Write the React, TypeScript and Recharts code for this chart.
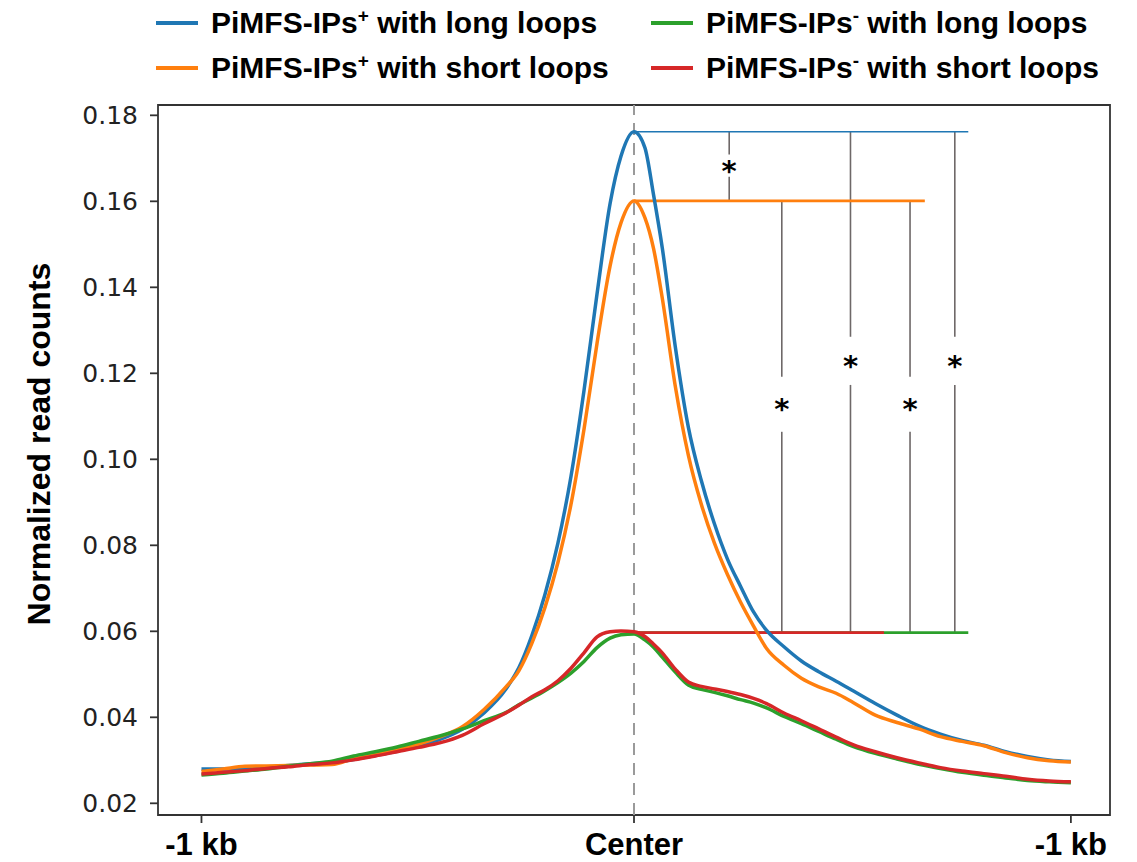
import {
  LineChart,
  Line,
  XAxis,
  YAxis,
  Legend,
  ReferenceLine,
  ReferenceArea,
  ReferenceDot,
} from "recharts";

// bin position: 0 = -1 kb, 99.5 = center, 200 = +1 kb
const positions = [
  0, 5, 10, 15, 20, 25, 30, 35, 40, 45, 50, 55, 60, 65, 70, 73, 76, 79, 82, 85, 88, 91, 94, 96.5, 99.5,
  102, 104, 106, 109, 112, 115, 118, 121, 124, 127, 130, 134, 138, 142, 146, 150, 155, 160, 165, 170,
  175, 180, 185, 190, 195, 200,
];

const plusLong = [
  0.028, 0.028, 0.0281, 0.0284, 0.0288, 0.0292, 0.0295, 0.0302, 0.0311, 0.0321, 0.0334, 0.0349, 0.0372,
  0.041, 0.0465, 0.0515, 0.059, 0.0685, 0.0805, 0.096, 0.116, 0.1385, 0.1595, 0.1705, 0.1762,
  0.1725, 0.1615, 0.1492, 0.1262, 0.1075, 0.095, 0.085, 0.0768, 0.0705, 0.0645, 0.0602, 0.0564, 0.0531,
  0.0506, 0.0484, 0.0461, 0.0432, 0.0405, 0.038, 0.0361, 0.0346, 0.0335, 0.032, 0.0309, 0.0301, 0.0297,
];

const plusShort = [
  0.0274, 0.028, 0.0286, 0.0287, 0.0288, 0.0289, 0.029, 0.0304, 0.0315, 0.0326, 0.0338, 0.0355, 0.0378,
  0.0418, 0.047, 0.0508, 0.0572, 0.0655, 0.076, 0.0895, 0.107, 0.127, 0.145, 0.155, 0.1601,
  0.1562, 0.149, 0.1375, 0.117, 0.101, 0.0895, 0.0805, 0.0732, 0.0668, 0.0612, 0.056, 0.0521, 0.0491,
  0.0471, 0.0456, 0.0434, 0.0405, 0.0388, 0.0373, 0.0355, 0.0344, 0.0334, 0.0318, 0.0306, 0.0299, 0.0296,
];

const minusLong = [
  0.0266, 0.027, 0.0275, 0.028, 0.0286, 0.0292, 0.0298, 0.031, 0.032, 0.0331, 0.0344, 0.0357, 0.0373,
  0.0392, 0.0411, 0.0429, 0.0445, 0.0462, 0.0481, 0.0503, 0.053, 0.0562, 0.0584, 0.0592, 0.0594,
  0.058, 0.0563, 0.054, 0.0505, 0.0475, 0.0465, 0.0458, 0.045, 0.0441, 0.0433, 0.0422, 0.0402, 0.0385,
  0.0367, 0.0349, 0.0332, 0.0316, 0.0303, 0.0291, 0.0281, 0.0272, 0.0265, 0.0259, 0.0253, 0.025, 0.0248,
];

const minusShort = [
  0.0268, 0.0272, 0.0276, 0.0281, 0.0285, 0.029, 0.0294, 0.0301, 0.031, 0.032, 0.033, 0.0341, 0.0358,
  0.0385, 0.041, 0.0428, 0.0448, 0.0464, 0.0485, 0.0514, 0.055, 0.0587, 0.0599, 0.0601, 0.0599,
  0.0588, 0.057, 0.055, 0.0512, 0.0482, 0.0472, 0.0466, 0.046, 0.0453, 0.0444, 0.0432, 0.041, 0.0392,
  0.0373, 0.0354, 0.0336, 0.032, 0.0306, 0.0294, 0.0283, 0.0275, 0.0269, 0.0263, 0.0256, 0.0252, 0.025,
];

const seriesKeys = ["plusLong", "plusShort", "minusLong", "minusShort"];
const seriesNames = [
  "PiMFS-IPs+ with long loops",
  "PiMFS-IPs+ with short loops",
  "PiMFS-IPs- with long loops",
  "PiMFS-IPs- with short loops",
];
const seriesColors = ["#1f77b4", "#ff7f0e", "#2ca02c", "#d62728"];

const xTicks = [0, 99.5, 200];
const xTickLabels = ["-1 kb", "Center", "-1 kb"];
const yTicks = [0.02, 0.04, 0.06, 0.08, 0.1, 0.12, 0.14, 0.16, 0.18];

// peak levels drawn to the right of the center (same order as the series)
const peakX = 99.5;
const peakLevel = [0.1762, 0.1601, 0.0597, 0.0597];
const peakLineEnd = [176.4, 166.4, 176.4, 157.0];
const peakLineWidth = [1.5, 2.6, 2.6, 2.6];

// significance brackets
const bracketX = [121.4, 133.5, 149.3, 163.0, 173.3];
const bracketTop = [0.1762, 0.1601, 0.1762, 0.1601, 0.1762];
const bracketBottom = [0.1601, 0.0597, 0.0597, 0.0597, 0.0597];
const starY = [0.1683, 0.1128, 0.1229, 0.1128, 0.1229];
const starGap = [0.0026, 0.0064, 0.0056, 0.0064, 0.0056];

const data = positions.map((x, i) => ({
  x,
  plusLong: plusLong[i],
  plusShort: plusShort[i],
  minusLong: minusLong[i],
  minusShort: minusShort[i],
}));

const xDomain: [number, number] = [-10, 209];
const yDomain: [number, number] = [0.01728, 0.1824];

const renderLegend = (props: any) => {
  const items = props.payload || [];
  return (
    <div
      style={{
        display: "grid",
        gridTemplateRows: "45px 45px",
        gridTemplateColumns: "495px auto",
        gridAutoFlow: "column",
        fontFamily: "Liberation Sans, Arial, sans-serif",
        fontWeight: "bold",
        fontSize: 30,
        color: "#000",
      }}
    >
      {items.map((it: any) => {
        const m = String(it.value).match(/^(PiMFS-IPs)([+-])(.*)$/);
        return (
          <div key={it.value} style={{ display: "flex", alignItems: "center", whiteSpace: "nowrap" }}>
            <span style={{ width: 42, height: 4, background: it.color, marginRight: 13, display: "inline-block" }} />
            {m ? (
              <span>
                {m[1]}
                <span style={{ fontSize: 19, position: "relative", top: -11 }}>{m[2]}</span>
                {m[3]}
              </span>
            ) : (
              <span>{it.value}</span>
            )}
          </div>
        );
      })}
    </div>
  );
};

const renderYLabel = (props: any) => {
  const vb = props.viewBox || { x: 0, y: 0, width: 0, height: 0 };
  const cx = vb.x + 50;
  const cy = vb.y + vb.height / 2 - 16;
  return (
    <text
      transform={`translate(${cx}, ${cy}) rotate(-90)`}
      textAnchor="middle"
      fontFamily="Liberation Sans, Arial, sans-serif"
      fontWeight="bold"
      fontSize={32}
      fill="#000"
    >
      Normalized read counts
    </text>
  );
};

const Star = (p: any) => (
  <text
    x={p.cx}
    y={p.cy + 15}
    textAnchor="middle"
    fontFamily="DejaVu Sans, sans-serif"
    fontWeight="bold"
    fontSize={29}
    fill="#000"
  >
    *
  </text>
);

export default function App() {
  const levelOrder = [0, 1, 2, 3];
  return (
    <div style={{ position: "absolute", left: 0, top: 0, background: "#fff" }}>
      <LineChart width={1137} height={862} data={data} margin={{ top: 105, right: 27, bottom: 0, left: 0 }}>
        <XAxis
          dataKey="x"
          type="number"
          domain={xDomain}
          allowDataOverflow
          ticks={xTicks}
          tickFormatter={(v: number) => xTickLabels[xTicks.indexOf(v)] ?? ""}
          height={47}
          axisLine={false}
          tickSize={8}
          tickMargin={10}
          tickLine={{ stroke: "#333", strokeWidth: 1.8 }}
          tick={{ fill: "#000", fontSize: 31, fontWeight: "bold", fontFamily: "Liberation Sans, Arial, sans-serif" }}
          interval={0}
        />
        <YAxis
          type="number"
          domain={yDomain}
          allowDataOverflow
          ticks={yTicks}
          tickFormatter={(v: number) => v.toFixed(2)}
          width={158}
          axisLine={false}
          tickSize={8}
          tickMargin={12}
          tickLine={{ stroke: "#333", strokeWidth: 1.8 }}
          tick={{ fill: "#222", fontSize: 25, fontFamily: "DejaVu Sans, sans-serif" }}
          interval={0}
          label={renderYLabel}
        />
        <ReferenceArea
          x1={xDomain[0]}
          x2={xDomain[1]}
          y1={yDomain[0]}
          y2={yDomain[1]}
          fill="none"
          fillOpacity={0}
          stroke="#333"
          strokeWidth={1.8}
          ifOverflow="visible"
        />
        <ReferenceLine x={peakX} stroke="#9a9a9a" strokeWidth={2} strokeDasharray="12 8" />
        {bracketX.map((x, i) => (
          <ReferenceLine
            key={`bt${i}`}
            segment={[
              { x, y: bracketTop[i] },
              { x, y: starY[i] + starGap[i] },
            ]}
            stroke="#6e6868"
            strokeWidth={1.6}
          />
        ))}
        {bracketX.map((x, i) => (
          <ReferenceLine
            key={`bb${i}`}
            segment={[
              { x, y: starY[i] - starGap[i] },
              { x, y: bracketBottom[i] },
            ]}
            stroke="#6e6868"
            strokeWidth={1.6}
          />
        ))}
        {levelOrder.map((i) => (
          <ReferenceLine
            key={`lv${i}`}
            segment={[
              { x: peakX, y: peakLevel[i] },
              { x: peakLineEnd[i], y: peakLevel[i] },
            ]}
            stroke={seriesColors[i]}
            strokeWidth={peakLineWidth[i]}
          />
        ))}
        {bracketX.map((x, i) => (
          <ReferenceDot key={`st${i}`} x={x} y={starY[i]} r={0} shape={Star} />
        ))}
        {seriesKeys.map((k, i) => (
          <Line
            key={k}
            type="monotone"
            dataKey={k}
            name={seriesNames[i]}
            stroke={seriesColors[i]}
            strokeWidth={3.5}
            dot={false}
            activeDot={false}
            isAnimationActive={false}
          />
        ))}
        <Legend
          layout="horizontal"
          verticalAlign="middle"
          align="center"
          wrapperStyle={{ top: 0, left: 156, width: 981, height: 90 }}
          content={renderLegend}
        />
      </LineChart>
    </div>
  );
}
